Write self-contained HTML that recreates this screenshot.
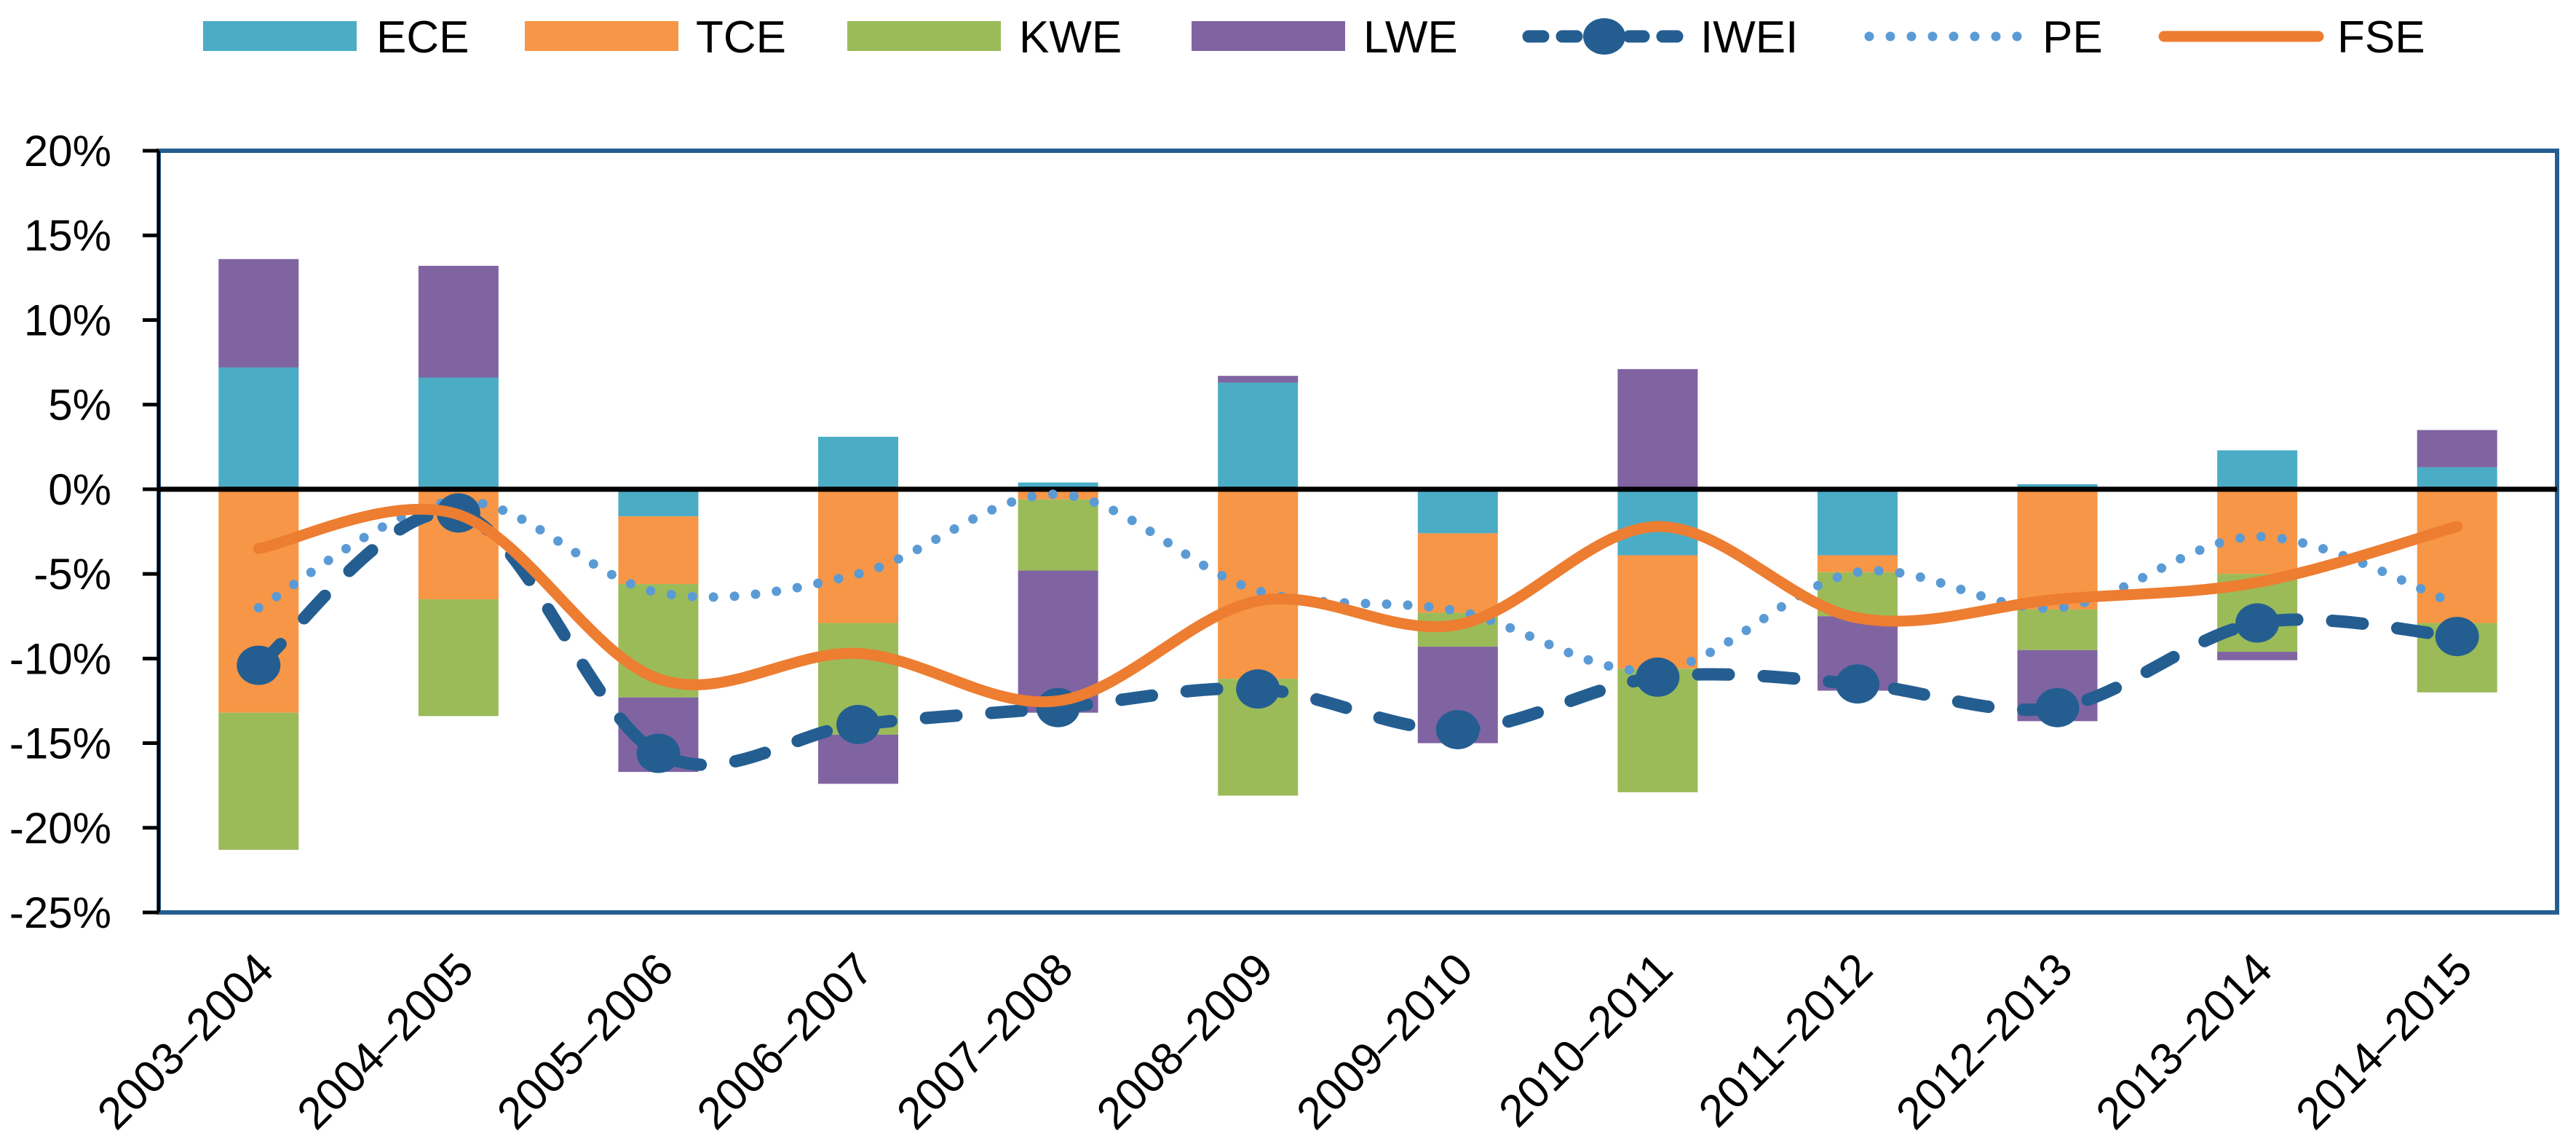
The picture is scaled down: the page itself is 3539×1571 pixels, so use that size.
<!DOCTYPE html>
<html><head><meta charset="utf-8"><style>
html,body{margin:0;padding:0;background:#fff;}
svg{display:block;font-family:"Liberation Sans",sans-serif;}
</style></head><body>
<svg id="chart" width="3539" height="1571" viewBox="0 0 3539 1571" xmlns="http://www.w3.org/2000/svg">
<g id="legend"></g>
<g id="bars"></g>
<g id="axes"></g>
<g id="lines"></g>
</svg>
<script>
const categories = ["2003–2004","2004–2005","2005–2006","2006–2007","2007–2008","2008–2009","2009–2010","2010–2011","2011–2012","2012–2013","2013–2014","2014–2015"];
const ECE = [7.2, 6.6, -1.6, 3.1, 0.4, 6.3, -2.6, -3.9, -3.9, 0.3, 2.3, 1.3];
const TCE = [-13.2, -6.5, -4.0, -7.9, -0.6, -11.2, -4.7, -6.7, -1.0, -7.1, -5.0, -7.9];
const KWE = [-8.1, -6.9, -6.7, -6.6, -4.2, -6.9, -2.0, -7.3, -2.6, -2.4, -4.6, -4.1];
const LWE = [6.4, 6.6, -4.4, -2.9, -8.4, 0.4, -5.7, 7.1, -4.4, -4.2, -0.5, 2.2];
const IWEI = [-10.4, -1.4, -15.6, -13.9, -12.9, -11.8, -14.2, -11.1, -11.5, -12.9, -7.9, -8.7];
const PE = [-7.0, -0.7, -6.1, -5.0, -0.3, -6.0, -7.2, -10.7, -4.9, -7.0, -2.8, -6.8];
const FSE = [-3.5, -1.5, -11.2, -9.7, -12.5, -6.6, -8.0, -2.2, -7.6, -6.5, -5.5, -2.2];
const yTicks = [20, 15, 10, 5, 0, -5, -10, -15, -20, -25];

const NS = "http://www.w3.org/2000/svg";
const L = 218, R = 3513, T = 207, B = 1253, yMax = 20, yMin = -25;
const colors = {ECE:"#4BACC6", TCE:"#F79646", KWE:"#9BBB59", LWE:"#8064A2", IWEI:"#245E91", PE:"#5B9BD5", FSE:"#ED7D31"};
function y(v){ return T + (yMax - v) / (yMax - yMin) * (B - T); }
function x(i){ return L + (R - L) / categories.length * (i + 0.5); }
function mk(tag, attrs, parent){ const e = document.createElementNS(NS, tag); for (const k in attrs) e.setAttribute(k, attrs[k]); parent.appendChild(e); return e; }

const barsG = document.getElementById('bars');
const series = [["ECE", ECE], ["TCE", TCE], ["KWE", KWE], ["LWE", LWE]];
const bw = 110;
categories.forEach((c, i) => {
  let pos = 0, neg = 0;
  series.forEach(([name, arr]) => {
    const v = arr[i];
    let y0, y1;
    if (v >= 0) { y0 = pos; y1 = pos + v; pos = y1; } else { y0 = neg; y1 = neg + v; neg = y1; }
    const r = mk('rect', {x: x(i) - bw/2, y: Math.min(y(y0), y(y1)), width: bw, height: Math.abs(y(y1) - y(y0)), fill: colors[name]}, barsG);
    
    
  });
});

const ax = document.getElementById('axes');
const frame = mk('rect', {x: L, y: T, width: R - L, height: B - T, fill: "none", stroke: "#245E91", "stroke-width": 6}, ax);


const yAxis = mk('line', {x1: L, y1: T, x2: L, y2: B, stroke: "#000", "stroke-width": 4}, ax);


yTicks.forEach(t => {
  const tk = mk('line', {x1: 196, y1: y(t), x2: L, y2: y(t), stroke: "#000", "stroke-width": 5}, ax);
  
  
  const tx = mk('text', {x: 153, y: y(t) + 21, "text-anchor": "end", "font-size": 60, fill: "#000"}, ax);
  tx.textContent = t + "%";
  
  
});
const zero = mk('line', {x1: L, y1: y(0), x2: R, y2: y(0), stroke: "#000", "stroke-width": 7}, ax);


categories.forEach((c, i) => {
  const px = x(i) + 24, py = 1335;
  const tx = mk('text', {x: px, y: py, "text-anchor": "end", "font-size": 62, fill: "#000", transform: `rotate(-45 ${px} ${py})`}, ax);
  tx.textContent = c;
  
  
});

function smooth(arr){
  const p = arr.map((v, i) => [x(i), y(v)]);
  let d = `M${p[0][0]},${p[0][1]}`;
  for (let i = 0; i < p.length - 1; i++) {
    const p0 = p[Math.max(0, i - 1)], p1 = p[i], p2 = p[i + 1], p3 = p[Math.min(p.length - 1, i + 2)];
    const t = 1/6;
    const c1 = [p1[0] + (p2[0] - p0[0]) * t, p1[1] + (p2[1] - p0[1]) * t];
    const c2 = [p2[0] - (p3[0] - p1[0]) * t, p2[1] - (p3[1] - p1[1]) * t];
    d += ` C${c1[0]},${c1[1]} ${c2[0]},${c2[1]} ${p2[0]},${p2[1]}`;
  }
  return d;
}
const lg = document.getElementById('lines');
const peLine = mk('path', {d: smooth(PE), fill: "none", stroke: colors.PE, "stroke-width": 13, "stroke-dasharray": "0 29", "stroke-linecap": "round"}, lg);


const iwLine = mk('path', {d: smooth(IWEI), fill: "none", stroke: colors.IWEI, "stroke-width": 17, "stroke-dasharray": "42 48", "stroke-linecap": "round"}, lg);


IWEI.forEach((v, i) => {
  const m = mk('ellipse', {cx: x(i), cy: y(v), rx: 30, ry: 27, fill: colors.IWEI}, lg);
  
  
});
const fsLine = mk('path', {d: smooth(FSE), fill: "none", stroke: colors.FSE, "stroke-width": 15, "stroke-linecap": "round"}, lg);



const leg = document.getElementById('legend');
const boxes = [["ECE", 279, 517], ["TCE", 721, 956], ["KWE", 1164, 1400], ["LWE", 1637, 1873]];
boxes.forEach(([n, sx, tx]) => {
  const r = mk('rect', {x: sx, y: 29, width: 211, height: 41, fill: colors[n]}, leg);
  
  
  const t = mk('text', {x: tx, y: 72, "font-size": 62, fill: "#000"}, leg);
  t.textContent = n;
  
  
});
const l1 = mk('line', {x1: 2100, y1: 50, x2: 2305, y2: 50, stroke: colors.IWEI, "stroke-width": 17, "stroke-dasharray": "20 26", "stroke-linecap": "round"}, leg);


const l1m = mk('ellipse', {cx: 2204, cy: 50, rx: 29, ry: 25, fill: colors.IWEI}, leg);


const l2 = mk('line', {x1: 2568, y1: 50, x2: 2780, y2: 50, stroke: colors.PE, "stroke-width": 13, "stroke-dasharray": "0 29", "stroke-linecap": "round"}, leg);


const l3 = mk('line', {x1: 2973, y1: 50, x2: 3185, y2: 50, stroke: colors.FSE, "stroke-width": 15, "stroke-linecap": "round"}, leg);


[["IWEI", 2336], ["PE", 2806], ["FSE", 3211]].forEach(([n, tx]) => {
  const t = mk('text', {x: tx, y: 72, "font-size": 62, fill: "#000"}, leg);
  t.textContent = n;
  
  
});
</script>
</body></html>
